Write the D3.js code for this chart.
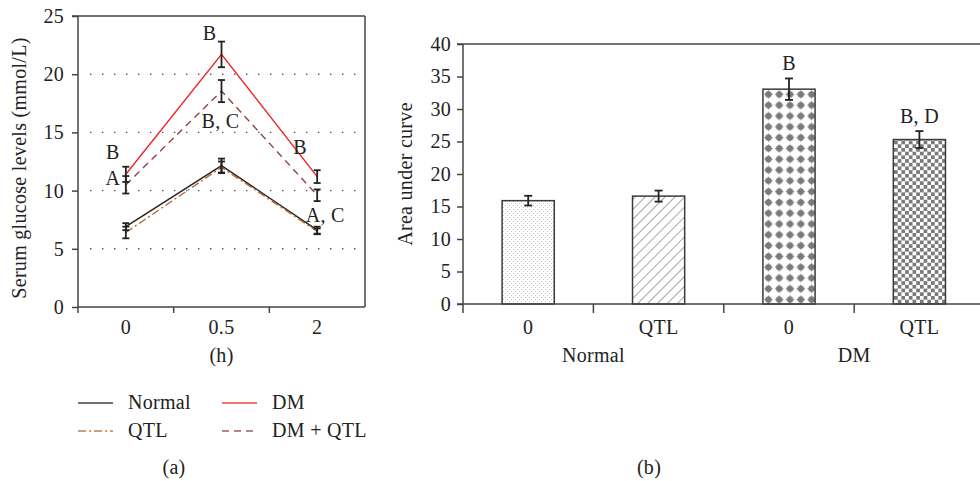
<!DOCTYPE html>
<html lang="en">
<head>
<meta charset="UTF-8">
<title>Serum glucose and AUC</title>
<script src="https://cdn.jsdelivr.net/npm/d3@7"></script>
<style>
  body { margin: 0; background: #fff; }
  svg text { font-family: "Liberation Serif", "Times New Roman", serif; fill: #222; }
</style>
</head>
<body>
<div id="chart"></div>
<script>
// panel (a): glucose over time
const times = ["0", "0.5", "2"];
const normalMean = [6.9, 12.15, 6.6];
const normalErr = [0.3, 0.6, 0.3];
const qtlMean = [6.4, 12.0, 6.5];
const qtlErr = [0.5, 0.5, 0.25];
const dmMean = [11.4, 21.7, 11.2];
const dmErr = [0.65, 1.1, 0.55];
const dmQtlMean = [10.5, 18.55, 9.6];
const dmQtlErr = [0.75, 0.95, 0.5];
const glucoseTicks = [0, 5, 10, 15, 20, 25];
const glucoseGrid = [5, 10, 15, 20];
// letters above points
const letterLabels = [
  {text: "B", t: "0", v: 13.3, dx: -13},
  {text: "A", t: "0", v: 11.1, dx: -13},
  {text: "B", t: "0.5", v: 23.5, dx: -12},
  {text: "B, C", t: "0.5", v: 16.0, dx: -1},
  {text: "B", t: "2", v: 13.75, dx: -17},
  {text: "A, C", t: "2", v: 7.9, dx: 8}
];

// panel (b): area under curve
const aucGroups = ["Normal", "Normal", "DM", "DM"];
const aucTreat = ["0", "QTL", "0", "QTL"];
const aucMean = [15.9, 16.6, 33.05, 25.3];
const aucErr = [0.75, 0.85, 1.65, 1.3];
const aucLetters = ["", "", "B", "B, D"];
const aucTicks = [0, 5, 10, 15, 20, 25, 30, 35, 40];

const W = 980, H = 481;
const axisColor = "#444";
const svg = d3.select("#chart").append("svg")
  .attr("width", W).attr("height", H)
  .style("letter-spacing", "0.3px");

const defs = svg.append("defs");

// fine dots
const pDots = defs.append("pattern").attr("id", "pDots")
  .attr("patternUnits", "userSpaceOnUse").attr("width", 4).attr("height", 4);
pDots.append("rect").attr("width", 4).attr("height", 4).attr("fill", "#fff");
pDots.append("rect").attr("x", 1).attr("y", 1).attr("width", 1).attr("height", 1).attr("fill", "#bbb");
pDots.append("rect").attr("x", 3).attr("y", 3).attr("width", 1).attr("height", 1).attr("fill", "#ccc");

// diagonal hatch
const pHatch = defs.append("pattern").attr("id", "pHatch")
  .attr("patternUnits", "userSpaceOnUse").attr("width", 7).attr("height", 7)
  .attr("patternTransform", "rotate(45)");
pHatch.append("rect").attr("width", 7).attr("height", 7).attr("fill", "#fff");
pHatch.append("line").attr("x1", 0).attr("y1", 0).attr("x2", 0).attr("y2", 7)
  .attr("stroke", "#777").attr("stroke-width", 1.3);

// rounded diamonds
const pDiam = defs.append("pattern").attr("id", "pDiam")
  .attr("patternUnits", "userSpaceOnUse").attr("width", 10.8).attr("height", 10.8)
  .attr("x", 763).attr("y", 89);
pDiam.append("rect").attr("width", 10.8).attr("height", 10.8).attr("fill", "#fff");
pDiam.append("path")
  .attr("d", "M5.4,0.8 Q6.3,4.5 10,5.4 Q6.3,6.3 5.4,10 Q4.5,6.3 0.8,5.4 Q4.5,4.5 5.4,0.8 Z")
  .attr("fill", "#7a7a7a");
pDiam.append("circle").attr("cx", 5.4).attr("cy", 5.4).attr("r", 3.2).attr("fill", "#7a7a7a");

// checkerboard
const pCheck = defs.append("pattern").attr("id", "pCheck")
  .attr("patternUnits", "userSpaceOnUse").attr("width", 7.4).attr("height", 7.4)
  .attr("x", 894).attr("y", 0);
pCheck.append("rect").attr("width", 7.4).attr("height", 7.4).attr("fill", "#fff");
pCheck.append("rect").attr("width", 3.7).attr("height", 3.7).attr("fill", "#7a7a7a");
pCheck.append("rect").attr("x", 3.7).attr("y", 3.7).attr("width", 3.7).attr("height", 3.7).attr("fill", "#7a7a7a");

const aucFills = ["url(#pDots)", "url(#pHatch)", "url(#pDiam)", "url(#pCheck)"];

// ---------- panel (a) ----------
const xa = d3.scaleBand().domain(times).range([78, 365]);
const ya = d3.scaleLinear().domain([0, 25]).range([307, 16]);
const ga = svg.append("g");

// dotted grid
ga.selectAll(".grid").data(glucoseGrid).join("line")
  .attr("x1", 90).attr("x2", 360)
  .attr("y1", d => ya(d)).attr("y2", d => ya(d))
  .attr("stroke", "#555").attr("stroke-width", 1.4)
  .attr("stroke-dasharray", "1.4,10.6");

// frame: top and right
ga.append("line").attr("x1", 72).attr("x2", 365).attr("y1", ya(25)).attr("y2", ya(25))
  .attr("stroke", axisColor).attr("stroke-width", 1.5);
ga.append("line").attr("x1", 365).attr("x2", 365).attr("y1", ya(25)).attr("y2", ya(0))
  .attr("stroke", axisColor).attr("stroke-width", 1.5);

const yAxisA = ga.append("g").attr("transform", "translate(78,0)")
  .call(d3.axisLeft(ya).tickValues(glucoseTicks).tickSize(6).tickSizeOuter(0).tickPadding(8));
yAxisA.select(".domain").remove();
yAxisA.selectAll("line").attr("stroke", axisColor).attr("stroke-width", 1.5);
yAxisA.selectAll("text").attr("font-size", 20).attr("font-family", "Liberation Serif").attr("fill", "#222");
ga.append("line").attr("x1", 78).attr("x2", 78).attr("y1", ya(25)).attr("y2", ya(0) + 6)
  .attr("stroke", axisColor).attr("stroke-width", 1.5);

// x axis
ga.append("line").attr("x1", 78).attr("x2", 365).attr("y1", ya(0)).attr("y2", ya(0))
  .attr("stroke", axisColor).attr("stroke-width", 1.5);
ga.selectAll(".xt").data(times.slice(1)).join("line")
  .attr("x1", d => xa(d)).attr("x2", d => xa(d))
  .attr("y1", ya(0)).attr("y2", ya(0) + 6)
  .attr("stroke", axisColor).attr("stroke-width", 1.5);
ga.selectAll(".xl").data(times).join("text")
  .attr("x", d => xa(d) + xa.bandwidth() / 2).attr("y", 334)
  .attr("text-anchor", "middle").attr("font-size", 20).text(d => d);
ga.append("text").attr("x", xa("0.5") + xa.bandwidth() / 2).attr("y", 362)
  .attr("text-anchor", "middle").attr("font-size", 20).text("(h)");
ga.append("text").attr("transform", "translate(26,168) rotate(-90)")
  .attr("text-anchor", "middle").attr("font-size", 20).text("Serum glucose levels (mmol/L)");

const series = [
  {name: "Normal", mean: normalMean, err: normalErr, color: "#222", dash: null},
  {name: "QTL", mean: qtlMean, err: qtlErr, color: "#b8652e", dash: "8,3,2,3"},
  {name: "DM", mean: dmMean, err: dmErr, color: "#ee2424", dash: null},
  {name: "DM + QTL", mean: dmQtlMean, err: dmQtlErr, color: "#8f4343", dash: "7,5"}
];
const cx = t => xa(t) + xa.bandwidth() / 2;
const line = d3.line().x(d => cx(d.t)).y(d => ya(d.v));

series.forEach(s => {
  const pts = times.map((t, i) => ({t, v: s.mean[i], e: s.err[i]}));
  ga.append("path").datum(pts).attr("d", line)
    .attr("fill", "none").attr("stroke", s.color).attr("stroke-width", 1.4)
    .attr("stroke-dasharray", s.dash);
});
series.forEach(s => {
  const pts = times.map((t, i) => ({t, v: s.mean[i], e: s.err[i]}));
  const eb = ga.append("g").attr("stroke", "#222").attr("stroke-width", 1.8);
  pts.forEach(p => {
    const x = cx(p.t);
    eb.append("line").attr("x1", x).attr("x2", x).attr("y1", ya(p.v + p.e)).attr("y2", ya(p.v - p.e));
    eb.append("line").attr("x1", x - 3.5).attr("x2", x + 3.5).attr("y1", ya(p.v + p.e)).attr("y2", ya(p.v + p.e));
    eb.append("line").attr("x1", x - 3.5).attr("x2", x + 3.5).attr("y1", ya(p.v - p.e)).attr("y2", ya(p.v - p.e));
  });
});
ga.selectAll(".lt").data(letterLabels).join("text")
  .attr("x", d => cx(d.t) + d.dx).attr("y", d => ya(d.v) + 7)
  .attr("text-anchor", "middle").attr("font-size", 20).text(d => d.text);

// legend
const legend = svg.append("g");
const legendPos = [[78, 403], [78, 431], [222, 403], [222, 431]];
series.forEach((s, i) => {
  const [lx, ly] = legendPos[i];
  legend.append("line").attr("x1", lx).attr("x2", lx + 35).attr("y1", ly).attr("y2", ly)
    .attr("stroke", s.color).attr("stroke-width", 1.6).attr("stroke-dasharray", s.dash)
    .attr("opacity", 0.85);
  legend.append("text").attr("x", lx + 50).attr("y", ly + 6).attr("font-size", 20).text(s.name);
});
svg.append("text").attr("x", 174).attr("y", 474).attr("text-anchor", "middle")
  .attr("font-size", 20).text("(a)");

// ---------- panel (b) ----------
const keys = aucGroups.map((g, i) => g + "|" + aucTreat[i] + "|" + i);
const xb = d3.scaleBand().domain(keys).range([463, 984.6]);
const yb = d3.scaleLinear().domain([0, 40]).range([304, 44]);
const gb = svg.append("g");
const barW = xb.bandwidth() * 0.4;

gb.append("line").attr("x1", 457).attr("x2", W).attr("y1", yb(40)).attr("y2", yb(40))
  .attr("stroke", axisColor).attr("stroke-width", 1.5);
const yAxisB = gb.append("g").attr("transform", "translate(463,0)")
  .call(d3.axisLeft(yb).tickValues(aucTicks).tickSize(6).tickSizeOuter(0).tickPadding(6));
yAxisB.select(".domain").remove();
yAxisB.selectAll("line").attr("stroke", axisColor).attr("stroke-width", 1.5);
yAxisB.selectAll("text").attr("font-size", 20).attr("font-family", "Liberation Serif").attr("fill", "#222");
gb.append("line").attr("x1", 463).attr("x2", 463).attr("y1", yb(40)).attr("y2", yb(0) + 9)
  .attr("stroke", axisColor).attr("stroke-width", 1.5);

gb.selectAll(".bar").data(keys).join("rect")
  .attr("x", d => xb(d) + (xb.bandwidth() - barW) / 2)
  .attr("width", barW)
  .attr("y", (d, i) => yb(aucMean[i]))
  .attr("height", (d, i) => yb(0) - yb(aucMean[i]))
  .attr("fill", (d, i) => aucFills[i])
  .attr("stroke", "#3a3a3a").attr("stroke-width", 1.5);

gb.append("line").attr("x1", 457).attr("x2", W).attr("y1", yb(0)).attr("y2", yb(0))
  .attr("stroke", axisColor).attr("stroke-width", 1.5);
gb.selectAll(".xt").data(keys.slice(1)).join("line")
  .attr("x1", d => xb(d)).attr("x2", d => xb(d))
  .attr("y1", yb(0)).attr("y2", yb(0) + 9)
  .attr("stroke", axisColor).attr("stroke-width", 1.5);

const bcx = d => xb(d) + xb.bandwidth() / 2;
const ebB = gb.append("g").attr("stroke", "#222").attr("stroke-width", 1.8);
keys.forEach((k, i) => {
  const x = bcx(k), hi = yb(aucMean[i] + aucErr[i]), lo = yb(aucMean[i] - aucErr[i]);
  ebB.append("line").attr("x1", x).attr("x2", x).attr("y1", hi).attr("y2", lo);
  ebB.append("line").attr("x1", x - 4).attr("x2", x + 4).attr("y1", hi).attr("y2", hi);
  ebB.append("line").attr("x1", x - 4).attr("x2", x + 4).attr("y1", lo).attr("y2", lo);
});
gb.selectAll(".bl").data(keys).join("text")
  .attr("x", d => bcx(d)).attr("y", (d, i) => yb(aucMean[i] + aucErr[i]) - 8)
  .attr("text-anchor", "middle").attr("font-size", 20).text((d, i) => aucLetters[i]);
gb.selectAll(".xl").data(keys).join("text")
  .attr("x", d => bcx(d)).attr("y", 334)
  .attr("text-anchor", "middle").attr("font-size", 20).text((d, i) => aucTreat[i]);
const groupNames = Array.from(new Set(aucGroups));
gb.selectAll(".gl").data(groupNames).join("text")
  .attr("x", g => {
    const ks = keys.filter((k, i) => aucGroups[i] === g);
    return (xb(ks[0]) + xb(ks[ks.length - 1]) + xb.bandwidth()) / 2;
  })
  .attr("y", 362).attr("text-anchor", "middle").attr("font-size", 20).text(g => g);
gb.append("text").attr("transform", "translate(412,174) rotate(-90)")
  .attr("text-anchor", "middle").attr("font-size", 20).text("Area under curve");
svg.append("text").attr("x", 649).attr("y", 474).attr("text-anchor", "middle")
  .attr("font-size", 20).text("(b)");
</script>
</body>
</html>
